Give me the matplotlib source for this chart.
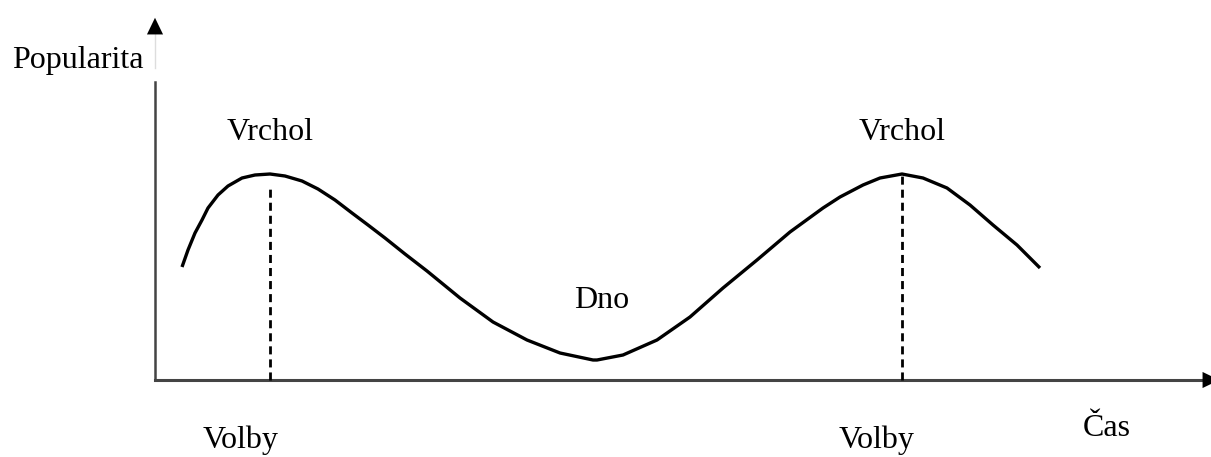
import matplotlib.pyplot as plt
import numpy as np

# cas (x) a popularita (y), pocatek os = (0, 0)
cas = [27, 33, 40, 47, 53, 63, 73, 87, 100, 115, 130, 147, 163, 180, 197,
       213, 230, 250, 272, 305, 338, 372, 405, 438, 442, 468, 502, 535, 568,
       602, 635, 668, 685, 708, 725, 747, 768, 792, 815, 838, 862, 885]
popularita = [113, 130, 147, 160, 172, 185, 194, 202, 205, 206, 204, 199, 191, 180, 167,
              155, 142, 126, 109, 82, 58, 40, 27, 20, 20, 25, 40, 63, 92,
              120, 148, 172, 183, 195, 202, 206, 202, 192, 175, 155, 135, 112]

volby = [115, 747]
vrchol = [205, 206]
popisky_vrchol = ["Vrchol", "Vrchol"]
popisky_volby = ["Volby", "Volby"]

plt.rcParams['font.family'] = ['Liberation Serif', 'DejaVu Serif']

fig = plt.figure(figsize=(12.11, 4.57), dpi=100)
ax = fig.add_axes([0, 0, 1, 1])
ax.set_xlim(-155, 1056)
ax.set_ylim(-77, 380)
ax.axis("off")

# osy se sipkami
ax.plot([0, 1050], [0, 0], color="#444444", lw=2.2)
ax.plot([0, 0], [0, 298], color="#444444", lw=1.8)
ax.plot([0, 0], [312, 350], color="#dddddd", lw=1)
hlava = dict(arrowstyle="-|>,head_length=1.2,head_width=0.58", color="black", lw=0)
ax.annotate("", xy=(1067, 0), xytext=(1048, 0), arrowprops=hlava,
            annotation_clip=False)
ax.annotate("", xy=(0, 365), xytext=(0, 346), arrowprops=hlava,
            annotation_clip=False)

# krivka popularity
ax.plot(cas, popularita, color="black", lw=2.4, solid_joinstyle="round",
        solid_capstyle="butt")

# volby - prerusovane cary
for x, v in zip(volby, vrchol):
    ax.plot([x, x], [0, v - 12 if x < 400 else v], color="black", lw=2,
            linestyle=(0, (2.9, 1.8)))

fs = 23
ax.text(-143, 312, "Popularita", fontsize=fs, ha="left", va="baseline")
for x, t in zip(volby, popisky_vrchol):
    ax.text(x, 240, t, fontsize=fs, ha="center", va="baseline")
ax.text(447, 72, "Dno", fontsize=fs, ha="center", va="baseline")
for x, t in zip([86, 722], popisky_volby):
    ax.text(x, -68, t, fontsize=fs, ha="center", va="baseline")
ax.text(952, -56, "Čas", fontsize=fs, ha="center", va="baseline")

fig.savefig("out.png", dpi=100)
